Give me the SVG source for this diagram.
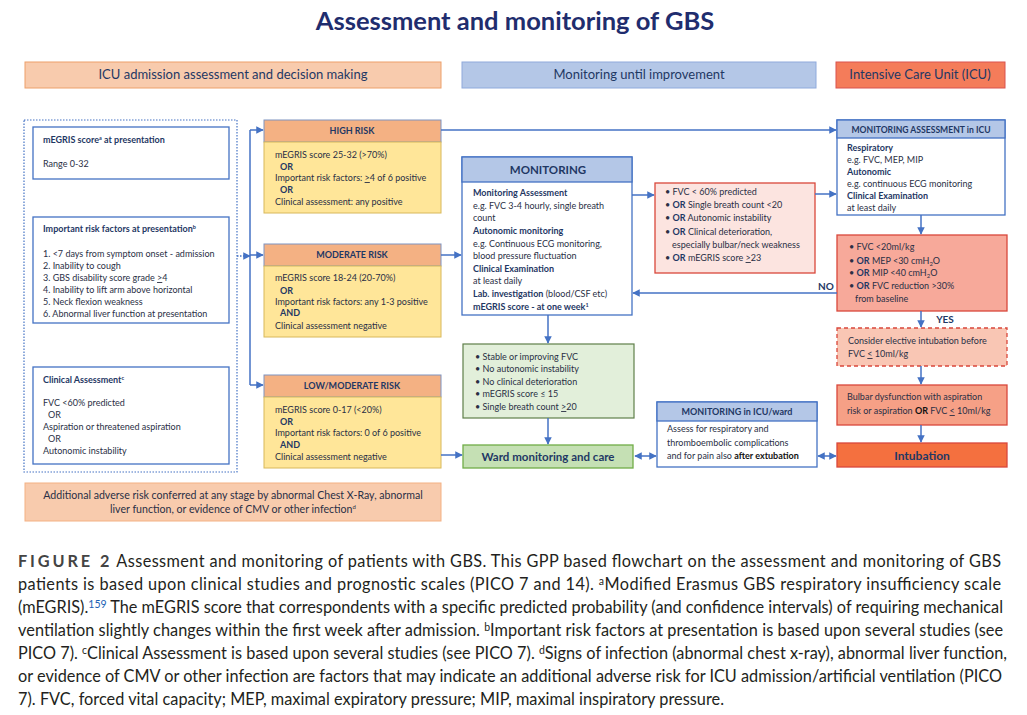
<svg xmlns="http://www.w3.org/2000/svg" width="1027" height="715" viewBox="0 0 1027 715">
<style>
text{font-family:Lato,"Liberation Sans",sans-serif;}
.t{font-size:9px;fill:#2a2f45;}
.b{font-weight:bold;fill:#1f3864;}
.h{font-size:9px;font-weight:bold;fill:#1f3864;text-anchor:middle;}
.hb{font-size:13px;fill:#1f3864;text-anchor:middle;}
.big{font-size:11.5px;font-weight:bold;fill:#1f3864;text-anchor:middle;}
.cap{font-size:16.3px;fill:#231f20;}
.blue{stroke:#4472c4;fill:#fff;stroke-width:1.3;}
.rh{fill:#f4b183;stroke:#7f93c0;stroke-width:1;}
.rb{fill:#ffe699;stroke:#d8b85a;stroke-width:1;}
.c{stroke:#4472c4;stroke-width:1.5;fill:none;}
.u{text-decoration:underline;}
</style>
<defs>
<marker id="ah" viewBox="0 0 10 10" refX="9" refY="5" markerWidth="5" markerHeight="5" orient="auto-start-reverse"><path d="M0,0 L10,5 L0,10 z" fill="#4472c4"/></marker>
</defs>
<rect width="1027" height="715" fill="#fff"/>
<text x="515" y="30" text-anchor="middle" style="font-size:25.5px;font-weight:bold;fill:#1f2d6e">Assessment and monitoring of GBS</text>

<g id="hdr-icu-admission"><rect x="25" y="62" width="416" height="26" fill="#f8cbad" stroke="#eda06b"/><text class="hb" x="233" y="79">ICU admission assessment and decision making</text></g>
<g id="hdr-monitoring"><rect x="462" y="62" width="354" height="26" fill="#b4c7e7" stroke="#8faadc"/><text class="hb" x="639" y="79">Monitoring until improvement</text></g>
<g id="hdr-icu"><rect x="836" y="62" width="169" height="26" fill="#f47c5a" stroke="#d9534f"/><text class="hb" x="920" y="79">Intensive Care Unit (ICU)</text></g>

<g id="left-group"><rect x="24" y="120" width="213" height="352" fill="none" stroke="#4472c4" stroke-width="1.2" stroke-dasharray="1.5,1.5"/></g>
<g id="megris"><rect class="blue" x="33" y="127" width="196" height="52"/>
<text class="t b" x="43" y="143">mEGRIS score<tspan style="font-size:5.5px" dy="-3">a</tspan><tspan dy="3">  at presentation</tspan></text>
<text class="t" x="43" y="167">Range 0-32</text></g>
<g id="risk-factors"><rect class="blue" x="33" y="217" width="196" height="106"/>
<text class="t b" x="43" y="232">Important risk factors at presentation<tspan style="font-size:5.5px" dy="-3">b</tspan></text>
<text class="t" x="43" y="257">1. &lt;7 days from symptom onset - admission</text>
<text class="t" x="43" y="269">2. Inability to cough</text>
<text class="t" x="43" y="281">3. GBS disability score grade <tspan class="u">&gt;</tspan>4</text>
<text class="t" x="43" y="293">4. Inability to lift arm above horizontal</text>
<text class="t" x="43" y="305">5. Neck flexion weakness</text>
<text class="t" x="43" y="317">6. Abnormal liver function at presentation</text></g>
<g id="clinical"><rect class="blue" x="33" y="367" width="196" height="97"/>
<text class="t b" x="43" y="383">Clinical Assessment<tspan style="font-size:5.5px" dy="-3">c</tspan></text>
<text class="t" x="43" y="406">FVC &lt;60% predicted</text>
<text class="t" x="48" y="418">OR</text>
<text class="t" x="43" y="430">Aspiration or threatened aspiration</text>
<text class="t" x="48" y="442">OR</text>
<text class="t" x="43" y="454">Autonomic instability</text></g>

<g id="high-risk"><rect class="rh" x="264" y="120" width="177" height="22"/><text class="h" x="352" y="134">HIGH RISK</text>
<rect class="rb" x="264" y="142" width="177" height="71"/>
<text class="t" x="275" y="158">mEGRIS score 25-32 (&gt;70%)</text>
<text class="t b" x="280" y="170">OR</text>
<text class="t" x="275" y="181">Important risk factors: <tspan class="u">&gt;</tspan>4 of 6 positive</text>
<text class="t b" x="280" y="193">OR</text>
<text class="t" x="275" y="205">Clinical assessment: any positive</text></g>
<g id="moderate-risk"><rect class="rh" x="264" y="244" width="177" height="22"/><text class="h" x="352" y="258">MODERATE RISK</text>
<rect class="rb" x="264" y="266" width="177" height="71"/>
<text class="t" x="275" y="281">mEGRIS score 18-24 (20-70%)</text>
<text class="t b" x="280" y="294">OR</text>
<text class="t" x="275" y="305">Important risk factors: any 1-3 positive</text>
<text class="t b" x="280" y="316">AND</text>
<text class="t" x="275" y="329">Clinical assessment negative</text></g>
<g id="low-risk"><rect class="rh" x="264" y="375" width="177" height="22"/><text class="h" x="352" y="389">LOW/MODERATE RISK</text>
<rect class="rb" x="264" y="397" width="177" height="71"/>
<text class="t" x="275" y="413">mEGRIS score 0-17 (&lt;20%)</text>
<text class="t b" x="280" y="425">OR</text>
<text class="t" x="275" y="436">Important risk factors: 0 of 6 positive</text>
<text class="t b" x="280" y="448">AND</text>
<text class="t" x="275" y="460">Clinical assessment negative</text></g>

<g id="additional"><rect x="25" y="483" width="416" height="38" fill="#f8cbad" stroke="#f4b183"/>
<text class="t" x="233" y="499" text-anchor="middle" style="font-size:10.6px">Additional adverse risk conferred at any stage by abnormal Chest X-Ray, abnormal</text>
<text class="t" x="233" y="513" text-anchor="middle" style="font-size:10.6px">liver function, or evidence of CMV or other infection<tspan style="font-size:6px" dy="-4">d</tspan></text></g>

<g id="monitoring"><rect x="462" y="157" width="170" height="158" fill="#fff" stroke="#4472c4" stroke-width="1.3"/>
<rect x="462" y="157" width="170" height="25" fill="#b4c7e7" stroke="#4472c4" stroke-width="1.3"/>
<text class="big" x="548" y="174">MONITORING</text>
<text class="t b" x="473" y="196">Monitoring Assessment</text>
<text class="t" x="473" y="209">e.g. FVC 3-4 hourly, single breath</text>
<text class="t" x="473" y="221">count</text>
<text class="t b" x="473" y="234">Autonomic monitoring</text>
<text class="t" x="473" y="247">e.g. Continuous ECG monitoring,</text>
<text class="t" x="473" y="259">blood pressure fluctuation</text>
<text class="t b" x="473" y="272">Clinical Examination</text>
<text class="t" x="473" y="284">at least daily</text>
<text class="t" x="473" y="297"><tspan class="b">Lab. investigation</tspan> (blood/CSF etc)</text>
<text class="t b" x="473" y="310">mEGRIS score - at one week<tspan style="font-size:5.5px" dy="-3">1</tspan></text></g>

<g id="deterioration"><rect x="655" y="183" width="160" height="90" fill="#fce4e0" stroke="#d9473b" stroke-width="1.3"/>
<text class="t" x="665" y="195">• FVC &lt; 60% predicted</text>
<text class="t" x="665" y="208">• <tspan class="b">OR</tspan> Single breath count &lt;20</text>
<text class="t" x="665" y="221">• <tspan class="b">OR</tspan> Autonomic instability</text>
<text class="t" x="665" y="235">• <tspan class="b">OR</tspan> Clinical deterioration,</text>
<text class="t" x="672" y="248">especially bulbar/neck weakness</text>
<text class="t" x="665" y="261">• <tspan class="b">OR</tspan> mEGRIS score <tspan class="u">&gt;</tspan>23</text></g>

<g id="green-criteria"><rect x="463" y="344" width="171" height="74" fill="#e2efda" stroke="#5f7f4a" stroke-width="1.2"/>
<text class="t" x="475" y="360">• Stable or improving FVC</text>
<text class="t" x="475" y="372">• No autonomic instability</text>
<text class="t" x="475" y="385">• No clinical deterioration</text>
<text class="t" x="475" y="397">• mEGRIS score ≤ 15</text>
<text class="t" x="475" y="410">• Single breath count <tspan class="u">&gt;</tspan>20</text></g>
<g id="ward"><rect x="463" y="445" width="170" height="23" fill="#c5e0b4" stroke="#70ad47" stroke-width="1.3"/>
<text class="big" x="548" y="461">Ward monitoring and care</text></g>

<g id="icu-ward"><rect x="657" y="402" width="160" height="65" fill="#fff" stroke="#4472c4" stroke-width="1.3"/>
<rect x="657" y="402" width="160" height="19" fill="#b4c7e7" stroke="#4472c4" stroke-width="1.3"/>
<text class="h" x="737" y="415">MONITORING in ICU/ward</text>
<text class="t" x="667" y="432">Assess for respiratory and</text>
<text class="t" x="667" y="446">thromboembolic complications</text>
<text class="t" x="667" y="459">and for pain also <tspan class="b" style="fill:#111">after extubation</tspan></text></g>

<g id="icu-monitoring"><rect x="837" y="120" width="168" height="95" fill="#fff" stroke="#4472c4" stroke-width="1.3"/>
<rect x="837" y="120" width="168" height="18" fill="#b4c7e7" stroke="#4472c4" stroke-width="1.3"/>
<text class="h" x="921" y="133" style="font-size:8.6px">MONITORING ASSESSMENT in ICU</text>
<text class="t b" x="847" y="151">Respiratory</text>
<text class="t" x="847" y="163">e.g. FVC, MEP, MIP</text>
<text class="t b" x="847" y="175">Autonomic</text>
<text class="t" x="847" y="187">e.g. continuous ECG monitoring</text>
<text class="t b" x="847" y="199">Clinical Examination</text>
<text class="t" x="847" y="211">at least daily</text></g>

<g id="icu-criteria"><rect x="837" y="235" width="170" height="76" fill="#f7a99a" stroke="#d9473b" stroke-width="1.3"/>
<text class="t" x="849" y="250">• FVC &lt;20ml/kg</text>
<text class="t" x="849" y="264">• <tspan class="b">OR</tspan> MEP &lt;30 cmH<tspan style="font-size:6px" dy="2">2</tspan><tspan dy="-2">O</tspan></text>
<text class="t" x="849" y="276">• <tspan class="b">OR</tspan> MIP &lt;40 cmH<tspan style="font-size:6px" dy="2">2</tspan><tspan dy="-2">O</tspan></text>
<text class="t" x="849" y="289">• <tspan class="b">OR</tspan> FVC reduction &gt;30%</text>
<text class="t" x="855" y="302">from baseline</text></g>

<g id="elective"><rect x="837" y="328" width="170" height="38" fill="#f9c6b4" stroke="#d9473b" stroke-width="1.3" stroke-dasharray="4,3"/>
<text class="t" x="848" y="344">Consider elective intubation before</text>
<text class="t" x="848" y="357">FVC <tspan class="u">&lt;</tspan> 10ml/kg</text></g>

<g id="bulbar"><rect x="837" y="385" width="170" height="40" fill="#f6a086" stroke="#d9473b" stroke-width="1.3"/>
<text class="t" x="847" y="400">Bulbar dysfunction with aspiration</text>
<text class="t" x="847" y="414">risk or aspiration  <tspan class="b" style="fill:#111">OR</tspan> FVC <tspan class="u">&lt;</tspan> 10ml/kg</text></g>

<g id="intubation"><rect x="837" y="443" width="170" height="24" fill="#f4703f" stroke="#d9473b" stroke-width="1.3"/>
<text class="big" x="922" y="460" style="font-size:12px">Intubation</text></g>

<g id="connectors">
<path class="c" d="M237,256 H250" stroke-dasharray="1.5,1.5" marker-end="url(#ah)"/>
<path class="c" d="M250,130 V385"/>
<path class="c" d="M250,130 H263" marker-end="url(#ah)"/>
<path class="c" d="M250,255 H263" marker-end="url(#ah)"/>
<path class="c" d="M250,385 H263" marker-end="url(#ah)"/>
<path class="c" d="M441,130 H836" marker-end="url(#ah)"/>
<path class="c" d="M441,255 H461" marker-end="url(#ah)"/>
<path class="c" d="M441,455 H462" marker-end="url(#ah)"/>
<path class="c" d="M632,195 H654" marker-end="url(#ah)"/>
<path class="c" d="M815,194 H836" marker-end="url(#ah)"/>
<path class="c" d="M921,215 V234" marker-end="url(#ah)"/>
<path class="c" d="M837,293 H633" marker-end="url(#ah)"/>
<path class="c" d="M921,311 V327" marker-end="url(#ah)"/>
<path class="c" d="M921,366 V384" marker-end="url(#ah)"/>
<path class="c" d="M921,425 V442" marker-end="url(#ah)"/>
<path class="c" d="M548,315 V343" marker-end="url(#ah)"/>
<path class="c" d="M548,418 V444" marker-end="url(#ah)"/>
<path class="c" d="M635,456 H656" marker-start="url(#ah)" marker-end="url(#ah)"/>
<path class="c" d="M818,456 H836" marker-start="url(#ah)" marker-end="url(#ah)"/>
<text x="826" y="290" text-anchor="middle" style="font-size:10px;font-weight:bold;fill:#1f3864">NO</text>
<text x="945" y="323" text-anchor="middle" style="font-size:10px;font-weight:bold;fill:#1f3864">YES</text>
</g>

<g id="caption">
<text class="cap" x="18" y="567" textLength="983" lengthAdjust="spacing"><tspan style="font-weight:bold;fill:#444" letter-spacing="2.5">FIGURE 2</tspan>   Assessment and monitoring of patients with GBS. This GPP based flowchart on the assessment and monitoring of GBS</text>
<text class="cap" x="18" y="590" textLength="983" lengthAdjust="spacing">patients is based upon clinical studies and prognostic scales (PICO 7 and 14). <tspan style="font-size:10.5px" dy="-5">a</tspan><tspan dy="5">Modified Erasmus GBS respiratory insufficiency scale</tspan></text>
<text class="cap" x="18" y="613" textLength="985" lengthAdjust="spacing">(mEGRIS).<tspan style="font-size:10.5px;fill:#1a5fb4" dy="-5">159</tspan><tspan dy="5"> The mEGRIS score that correspondents with a specific predicted probability (and confidence intervals) of requiring mechanical</tspan></text>
<text class="cap" x="18" y="636" textLength="985" lengthAdjust="spacing">ventilation slightly changes within the first week after admission. <tspan style="font-size:10.5px" dy="-5">b</tspan><tspan dy="5">Important risk factors at presentation is based upon several studies (see</tspan></text>
<text class="cap" x="18" y="659" textLength="989" lengthAdjust="spacing">PICO 7). <tspan style="font-size:10.5px" dy="-5">c</tspan><tspan dy="5">Clinical Assessment is based upon several studies (see PICO 7). </tspan><tspan style="font-size:10.5px" dy="-5">d</tspan><tspan dy="5">Signs of infection (abnormal chest x-ray), abnormal liver function,</tspan></text>
<text class="cap" x="18" y="682" textLength="984" lengthAdjust="spacing">or evidence of CMV or other infection are factors that may indicate an additional adverse risk for ICU admission/artificial ventilation (PICO</text>
<text class="cap" x="18" y="705" textLength="706" lengthAdjust="spacing">7). FVC, forced vital capacity; MEP, maximal expiratory pressure; MIP, maximal inspiratory pressure.</text>
</g>
</svg>
